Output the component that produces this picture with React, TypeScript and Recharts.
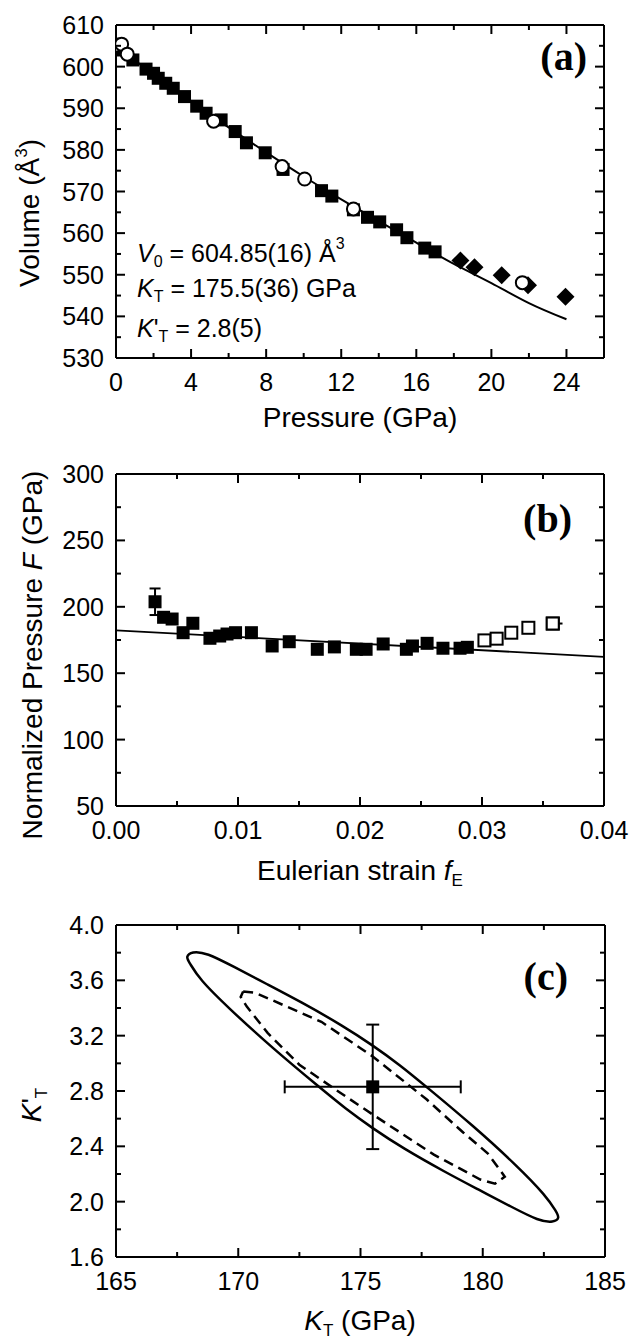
import { ComposedChart, Scatter, Line, XAxis, YAxis, ErrorBar } from "recharts";

const FONT = "'Liberation Sans', Arial, sans-serif";
const SERIF = "'Liberation Serif', 'Times New Roman', serif";

// ---------- (a) volume vs pressure ----------
const sqP = [0, 0.9, 1.6, 2.0, 2.25, 2.65, 3.05, 3.65, 4.3, 4.8, 5.6, 6.35, 6.95, 7.95, 8.9, 10.95, 11.5, 12.65, 13.4, 14.05, 14.95, 15.5, 16.45, 17.0];
const sqV = [604.0, 601.6, 599.4, 598.4, 597.2, 596.0, 594.8, 592.8, 590.5, 588.8, 587.2, 584.4, 581.7, 579.3, 575.3, 570.2, 568.9, 565.6, 563.8, 562.7, 560.8, 558.9, 556.4, 555.5];
const circP = [0.05, 0.3, 0.6, 5.2, 8.85, 10.05, 12.65, 21.65];
const circV = [605.2, 605.4, 603.0, 586.9, 576.0, 573.0, 565.8, 548.1];
const diaP = [18.35, 19.1, 20.55, 21.95, 23.95];
const diaV = [553.4, 551.8, 549.9, 547.5, 544.7];
const eosP = [0, 2, 4, 6, 8, 10, 12, 14, 16, 18, 20, 22, 24];
const eosV = [604.85, 598.2, 591.7, 585.4, 579.4, 573.6, 568.1, 562.9, 557.7, 552.6, 548.0, 543.2, 539.3];
const aXTicks = [0, 2, 4, 6, 8, 10, 12, 14, 16, 18, 20, 22, 24];
const aXLabels = [0, 4, 8, 12, 16, 20, 24];
const aYTicks = [530, 535, 540, 545, 550, 555, 560, 565, 570, 575, 580, 585, 590, 595, 600, 605, 610];
const aYLabels = [530, 540, 550, 560, 570, 580, 590, 600, 610];

// ---------- (b) normalized pressure vs eulerian strain ----------
const fE = [0.0032, 0.0039, 0.0046, 0.0055, 0.0063, 0.0077, 0.0085, 0.0091, 0.0098, 0.0111, 0.0128, 0.0142, 0.0165, 0.0179, 0.0197, 0.0205, 0.0219, 0.0238, 0.0243, 0.0255, 0.0268, 0.0282, 0.0288];
const normF = [203.8, 192.1, 190.8, 180.5, 187.6, 176.3, 178.0, 179.5, 180.5, 180.5, 170.5, 173.7, 168.0, 169.8, 168.0, 168.0, 172.0, 168.0, 170.5, 172.5, 168.8, 168.8, 169.5];
const fEOpen = [0.0302, 0.0312, 0.0324, 0.0338, 0.0358];
const normFOpen = [174.7, 176.0, 180.5, 184.2, 187.4];
const fitFx = [0, 0.04];
const fitFy = [182.3, 162.3];
const firstFErr = 10;
const lastFxErr = 0.0008;
const bXTicks = [0, 0.005, 0.01, 0.015, 0.02, 0.025, 0.03, 0.035, 0.04];
const bXLabels = [0, 0.01, 0.02, 0.03, 0.04];
const bYTicks = [50, 75, 100, 125, 150, 175, 200, 225, 250, 275, 300];
const bYLabels = [50, 100, 150, 200, 250, 300];

// ---------- (c) K' vs K confidence ellipses ----------
const kBest = 175.5;
const kpBest = 2.83;
const kErr = 3.6;
const kpErr = 0.45;
const outerK = [168.1, 168.7, 169.8, 171.2, 172.5, 174.3, 175.5, 176.6, 177.7, 179.6, 181.4, 182.6, 183.0, 183.15, 182.9, 182.3, 181.2, 179.8, 178.5, 176.7, 175.5, 174.4, 173.3, 171.4, 169.6, 168.4, 168.0, 167.85];
const outerKp = [3.81, 3.80, 3.70, 3.57, 3.45, 3.27, 3.13, 2.99, 2.83, 2.55, 2.26, 2.04, 1.93, 1.88, 1.85, 1.86, 1.96, 2.09, 2.21, 2.39, 2.53, 2.67, 2.83, 3.11, 3.40, 3.61, 3.73, 3.77];
const innerK = [170.2, 170.7, 172.5, 173.4, 175.5, 177.7, 179.2, 180.2, 180.7, 180.9, 180.5, 179.9, 178.0, 175.5, 173.9, 172.5, 171.2, 170.35, 170.1, 170.2];
const innerKp = [3.52, 3.51, 3.37, 3.30, 3.05, 2.74, 2.50, 2.35, 2.23, 2.18, 2.13, 2.16, 2.34, 2.63, 2.82, 2.99, 3.22, 3.41, 3.48, 3.52];
const cXTicks = [165, 167.5, 170, 172.5, 175, 177.5, 180, 182.5, 185];
const cXLabels = [165, 170, 175, 180, 185];
const cYTicks = [1.6, 1.8, 2.0, 2.2, 2.4, 2.6, 2.8, 3.0, 3.2, 3.4, 3.6, 3.8, 4.0];
const cYLabels = [1.6, 2.0, 2.4, 2.8, 3.2, 3.6, 4.0];

const zip = (xs: number[], ys: number[]) => xs.map((x, i) => ({ x, y: ys[i] }));

const frame = { stroke: "#000", strokeWidth: 2 };

// inward ticks, long for labelled ones
function axisTick(side: "bottom" | "left" | "top" | "right", labels: number[], digits = 0) {
  return (props: any) => {
    const { x, y, payload } = props;
    const v = payload.value as number;
    const major = labels.some((m) => Math.abs(m - v) < 1e-9);
    const len = major ? 9 : 5;
    let x2 = x;
    let y2 = y;
    if (side === "bottom") y2 = y - len;
    if (side === "top") y2 = y + len;
    if (side === "left") x2 = x + len;
    if (side === "right") x2 = x - len;
    return (
      <g>
        <line x1={x} y1={y} x2={x2} y2={y2} stroke="#000" strokeWidth={2} />
        {major && side === "bottom" && (
          <text x={x} y={y + 33} textAnchor="middle" fontFamily={FONT} fontSize={25} fill="#000">
            {v.toFixed(digits)}
          </text>
        )}
        {major && side === "left" && (
          <text x={x - 12} y={y + 9} textAnchor="end" fontFamily={FONT} fontSize={25} fill="#000">
            {v.toFixed(digits)}
          </text>
        )}
      </g>
    );
  };
}

const filledSquare = (props: any) => (
  <rect x={props.cx - 6.5} y={props.cy - 6.5} width={13} height={13} fill="#000" />
);
const openSquare = (props: any) => (
  <rect x={props.cx - 6} y={props.cy - 6} width={12} height={12} fill="#fff" stroke="#000" strokeWidth={2} />
);
const openCircle = (props: any) => (
  <circle cx={props.cx} cy={props.cy} r={6.5} fill="#fff" stroke="#000" strokeWidth={2} />
);
const diamond = (props: any) => {
  const { cx, cy } = props;
  const d = 9;
  return <polygon points={`${cx},${cy - d} ${cx + d},${cy} ${cx},${cy + d} ${cx - d},${cy}`} fill="#000" />;
};
const nothing = () => <g />;

// bottom/left axes carry labels, top/right only mirror the ticks (frame)
function Axes({ xd, yd, xt, xl, yt, yl, xDigits, yDigits }: any) {
  return [
    <XAxis key="b" xAxisId="b" dataKey="x" type="number" domain={xd} ticks={xt} interval={0} tickSize={0} tickMargin={0} height={70} axisLine={frame} tickLine={false} tick={axisTick("bottom", xl, xDigits)} allowDataOverflow />,
    <XAxis key="t" xAxisId="t" orientation="top" dataKey="x" type="number" domain={xd} ticks={xt} interval={0} tickSize={0} tickMargin={0} height={1} axisLine={frame} tickLine={false} tick={axisTick("top", xl)} allowDataOverflow />,
    <YAxis key="l" yAxisId="l" dataKey="y" type="number" domain={yd} ticks={yt} interval={0} tickSize={0} tickMargin={0} width={70} axisLine={frame} tickLine={false} tick={axisTick("left", yl, yDigits)} allowDataOverflow />,
    <YAxis key="r" yAxisId="r" orientation="right" dataKey="y" type="number" domain={yd} ticks={yt} interval={0} tickSize={0} tickMargin={0} width={1} axisLine={frame} tickLine={false} tick={axisTick("right", yl)} allowDataOverflow />,
    <Scatter key="anchor" xAxisId="t" yAxisId="r" data={[{ x: xd[0], y: yd[0] }, { x: xd[1], y: yd[1] }]} shape={nothing} isAnimationActive={false} />,
  ];
}

export default function App() {
  const sub = { fontSize: 16 };
  return (
    <div style={{ position: "absolute", left: 0, top: 0, width: 633, height: 1339, background: "#fff" }}>
      <div style={{ position: "absolute", left: 0, top: 0 }}>
        <ComposedChart width={633} height={440} margin={{ top: 24, right: 28, left: 46, bottom: 12 }}>
          {Axes({ xd: [0, 26], yd: [530, 610], xt: aXTicks, xl: aXLabels, yt: aYTicks, yl: aYLabels, xDigits: 0, yDigits: 0 })}
          <Line xAxisId="b" yAxisId="l" data={zip(eosP, eosV)} dataKey="y" type="natural" stroke="#000" strokeWidth={2} dot={false} activeDot={false} isAnimationActive={false} />
          <Scatter xAxisId="b" yAxisId="l" data={zip(sqP, sqV)} shape={filledSquare} isAnimationActive={false} />
          <Scatter xAxisId="b" yAxisId="l" data={zip(diaP, diaV)} shape={diamond} isAnimationActive={false} />
          <Scatter xAxisId="b" yAxisId="l" data={zip(circP, circV)} shape={openCircle} isAnimationActive={false} />
        </ComposedChart>
      </div>

      <div style={{ position: "absolute", left: 0, top: 440 }}>
        <ComposedChart width={633} height={450} margin={{ top: 33, right: 28, left: 46, bottom: 14 }}>
          {Axes({ xd: [0, 0.04], yd: [50, 300], xt: bXTicks, xl: bXLabels, yt: bYTicks, yl: bYLabels, xDigits: 2, yDigits: 0 })}
          <Line xAxisId="b" yAxisId="l" data={zip(fitFx, fitFy)} dataKey="y" type="linear" stroke="#000" strokeWidth={1.8} dot={false} activeDot={false} isAnimationActive={false} />
          <Scatter xAxisId="b" yAxisId="l" data={[{ x: fE[0], y: normF[0], e: firstFErr }]} shape={filledSquare} isAnimationActive={false}>
            <ErrorBar dataKey="e" direction="y" width={5.5} stroke="#000" strokeWidth={2} />
          </Scatter>
          <Scatter xAxisId="b" yAxisId="l" data={zip(fE, normF).slice(1)} shape={filledSquare} isAnimationActive={false} />
          <Scatter xAxisId="b" yAxisId="l" data={[{ x: fEOpen[4], y: normFOpen[4], e: [0, lastFxErr] }]} shape={openSquare} isAnimationActive={false}>
            <ErrorBar dataKey="e" direction="x" width={0} stroke="#000" strokeWidth={2} />
          </Scatter>
          <Scatter xAxisId="b" yAxisId="l" data={zip(fEOpen, normFOpen)} shape={openSquare} isAnimationActive={false} />
        </ComposedChart>
      </div>

      <div style={{ position: "absolute", left: 0, top: 890 }}>
        <ComposedChart width={633} height={449} margin={{ top: 34, right: 27, left: 46, bottom: 12 }}>
          {Axes({ xd: [165, 185], yd: [1.6, 4.0], xt: cXTicks, xl: cXLabels, yt: cYTicks, yl: cYLabels, xDigits: 0, yDigits: 1 })}
          <Line xAxisId="b" yAxisId="l" data={zip(outerK, outerKp)} dataKey="y" type="basisClosed" stroke="#000" strokeWidth={2.5} dot={false} activeDot={false} isAnimationActive={false} />
          <Line xAxisId="b" yAxisId="l" data={zip(innerK, innerKp)} dataKey="y" type="linear" stroke="#000" strokeWidth={2.5} strokeDasharray="10 6" dot={false} activeDot={false} isAnimationActive={false} />
          <Scatter xAxisId="b" yAxisId="l" data={[{ x: kBest, y: kpBest, ex: kErr, ey: kpErr }]} shape={filledSquare} isAnimationActive={false}>
            <ErrorBar dataKey="ey" direction="y" width={6.5} stroke="#000" strokeWidth={2} />
            <ErrorBar dataKey="ex" direction="x" width={6.5} stroke="#000" strokeWidth={2} />
          </Scatter>
        </ComposedChart>
      </div>

      <svg width={633} height={1339} style={{ position: "absolute", left: 0, top: 0, pointerEvents: "none" }} fontFamily={FONT} fill="#000">
        {/* (a) */}
        <text x={587} y={70} fontFamily={SERIF} fontWeight="bold" fontSize={40} textAnchor="end">(a)</text>
        <text x={137} y={262} fontSize={25}>
          <tspan fontStyle="italic">V</tspan>
          <tspan {...sub} dy={5}>0</tspan>
          <tspan dy={-5}> = 604.85(16) Å</tspan>
          <tspan {...sub} dy={-13}>3</tspan>
        </text>
        <text x={137} y={297} fontSize={25}>
          <tspan fontStyle="italic">K</tspan>
          <tspan {...sub} dy={5}>T</tspan>
          <tspan dy={-5}> = 175.5(36) GPa</tspan>
        </text>
        <text x={137} y={337} fontSize={25}>
          <tspan fontStyle="italic">K</tspan>
          <tspan>'</tspan>
          <tspan {...sub} dy={5}>T</tspan>
          <tspan dy={-5}> = 2.8(5)</tspan>
        </text>
        <text transform="translate(39,213) rotate(-90)" textAnchor="middle" fontSize={28}>
          Volume (Å<tspan fontSize={17} dy={-12}>3</tspan>
          <tspan dy={12}>)</tspan>
        </text>
        <text x={360} y={427} textAnchor="middle" fontSize={28}>Pressure (GPa)</text>

        {/* (b) */}
        <text x={572} y={532} fontFamily={SERIF} fontWeight="bold" fontSize={40} textAnchor="end">(b)</text>
        <text transform="translate(42,655) rotate(-90)" textAnchor="middle" fontSize={28}>
          Normalized Pressure <tspan fontStyle="italic">F</tspan> (GPa)
        </text>
        <text x={360} y={880} textAnchor="middle" fontSize={28}>
          Eulerian strain <tspan fontStyle="italic">f</tspan>
          <tspan fontSize={17} dy={6}>E</tspan>
        </text>

        {/* (c) */}
        <text x={568} y={990} fontFamily={SERIF} fontWeight="bold" fontSize={40} textAnchor="end">(c)</text>
        <text transform="translate(41,1105) rotate(-90)" textAnchor="middle" fontSize={28}>
          <tspan fontStyle="italic">K</tspan>'<tspan fontSize={17} dy={6}>T</tspan>
        </text>
        <text x={360} y={1330} textAnchor="middle" fontSize={28}>
          <tspan fontStyle="italic">K</tspan>
          <tspan fontSize={17} dy={6}>T</tspan>
          <tspan dy={-6}> (GPa)</tspan>
        </text>
      </svg>
    </div>
  );
}
